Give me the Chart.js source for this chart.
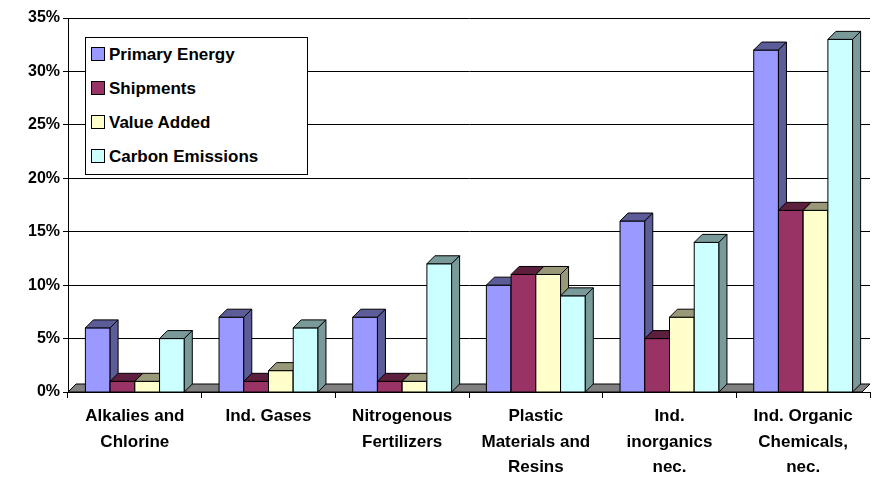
<!DOCTYPE html>
<html><head>
<script src="https://cdn.jsdelivr.net/npm/chart.js@4/dist/chart.umd.min.js"></script>
<style>
body{margin:0;background:#fff;font-family:Arial,"Liberation Sans",sans-serif}
#wrap{position:relative;width:877px;height:482px}
#legend{position:absolute;left:85px;top:37px;width:223px;height:138px;border:1px solid #000;background:#fff;font:bold 17px "Liberation Sans",Arial;box-sizing:border-box;padding:3px 0 0 5px}
#legend div{height:34px;line-height:28px;white-space:nowrap}
#legend span{display:inline-block;width:12px;height:12px;border:1px solid #000;margin-right:4px;vertical-align:-1px}
</style></head><body>
<div id="wrap"><canvas id="c" width="877" height="482"></canvas>
<div id="legend"></div></div>
<script>
var categories = [['Alkalies and','Chlorine'],['Ind. Gases'],['Nitrogenous','Fertilizers'],['Plastic','Materials and','Resins'],['Ind.','inorganics','nec.'],['Ind. Organic','Chemicals,','nec.']];
var seriesNames = ['Primary Energy','Shipments','Value Added','Carbon Emissions'];
var primaryEnergy = [6,7,7,10,16,32];
var shipments = [1,1,1,11,5,17];
var valueAdded = [1,2,1,11,7,17];
var carbonEmissions = [5,6,12,9,14,33];
var colors = ['#9999FF','#993366','#FFFFCC','#CCFFFF'];
var sideColors = ['#5c5c99','#5c1f3d','#99997a','#7a9999'];
var D = 8;

document.getElementById('legend').innerHTML = seriesNames.map(function(n,i){
  return '<div><span style="background:'+colors[i]+'"></span>'+n+'</div>';}).join('');

function poly(ctx, pts, fill){
  ctx.beginPath(); ctx.moveTo(pts[0][0],pts[0][1]);
  for (var i=1;i<pts.length;i++) ctx.lineTo(pts[i][0],pts[i][1]);
  ctx.closePath(); ctx.fillStyle=fill; ctx.fill(); ctx.strokeStyle='#000'; ctx.lineWidth=1; ctx.stroke();
}
var bars3d = {
  id:'bars3d',
  afterDatasetsDraw: function(chart){
    var ctx = chart.ctx, a = chart.chartArea, base = chart.scales.y.getPixelForValue(0);
    ctx.save();
    poly(ctx, [[a.left,base],[a.right-D,base],[a.right,base-D],[a.left+D,base-D]], '#808080');
    var metas = chart.data.datasets.map(function(_,i){return chart.getDatasetMeta(i);});
    for (var j=0;j<categories.length;j++){
      for (var i=0;i<metas.length;i++){
        var b = metas[i].data[j], w = b.width, l = b.x-w/2, r = b.x+w/2, y = b.y;
        poly(ctx, [[l,y],[r,y],[r,base],[l,base]], colors[i]);
        poly(ctx, [[l,y],[r,y],[r+D,y-D],[l+D,y-D]], sideColors[i]);
        poly(ctx, [[r,y],[r+D,y-D],[r+D,base-D],[r,base]], sideColors[i]);
      }
    }
    ctx.restore();
  }
};
new Chart(document.getElementById('c'), {
  type:'bar',
  data:{labels:categories, datasets:[primaryEnergy,shipments,valueAdded,carbonEmissions].map(function(d,i){
    return {label:seriesNames[i], data:d, backgroundColor:'rgba(0,0,0,0)', borderWidth:0};})},
  options:{
    responsive:false, animation:false,
    layout:{padding:{top:18,right:7,left:0,bottom:0}},
    plugins:{legend:{display:false},tooltip:{enabled:false}},
    datasets:{bar:{categoryPercentage:0.74,barPercentage:1}},
    scales:{
      x:{grid:{display:true,offset:true,drawOnChartArea:false,color:'#000',tickLength:6},border:{color:'#000'},
        afterFit:function(s){s.height=90;},
        ticks:{color:'#000',maxRotation:0,autoSkip:false,font:{family:'Liberation Sans',size:17,weight:'bold',lineHeight:1.5},padding:6}},
      y:{min:0,max:35,afterFit:function(s){s.width=68;},
        grid:{color:'#000',drawTicks:true,tickLength:5},border:{color:'#000'},
        ticks:{stepSize:5,color:'#000',callback:function(v){return v+'%';},font:{family:'Liberation Sans',size:16,weight:'bold'}}}
    }
  },
  plugins:[bars3d]
});
</script></body></html>
